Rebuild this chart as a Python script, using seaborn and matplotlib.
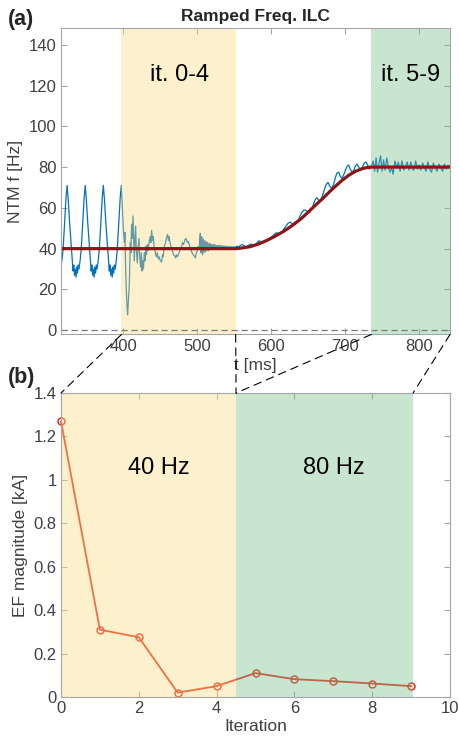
import seaborn as sns
import matplotlib.pyplot as plt
import pandas as pd
from matplotlib.patches import ConnectionPatch
from matplotlib.ticker import FuncFormatter

# ---------------- data ----------------
# (a) measured NTM frequency, (t [ms], f [Hz]) in four stretches
blue_pre = [(316, 32), (317.5, 36), (318.6, 40), (320.5, 52), (322.5, 65), (324, 71), (325.5, 64), (327.5, 52),
            (329.9, 40), (331, 34), (332, 29), (333, 32), (334, 27), (335, 30), (336, 26), (337, 31), (338, 28),
            (339, 32), (340, 30), (341.5, 34), (343.1, 40),
            (345, 52), (347, 65), (348.5, 71), (350, 64), (352, 52), (354.4, 40), (355.5, 34), (356.5, 29),
            (357.5, 32), (358.5, 27), (359.5, 30), (360.5, 26), (361.5, 31), (362.5, 28), (363.5, 32), (364.5, 30),
            (366, 34), (367.6, 40),
            (369.5, 52), (371.5, 65), (373, 71), (374.5, 64), (376.5, 52), (378.9, 40), (380, 34), (381, 29),
            (382, 32), (383, 27), (384, 30), (385, 26), (386, 31), (387, 28), (388, 32), (389, 30), (390.5, 34),
            (391.9, 40), (393.8, 52), (395.8, 65), (397.3, 71)]
blue_it04 = [(398.5, 62), (400, 50), (401.4, 43), (402.2, 48), (403.1, 31), (404, 20), (405, 12), (405.8, 7.5),
             (407, 15), (408.1, 22), (409, 35), (409.5, 43), (410.3, 38), (411.2, 52), (412, 45), (413.1, 56),
             (414, 44), (414.9, 34), (415.8, 45), (416.6, 51), (417.6, 40), (418.9, 33), (420, 40), (421.2, 45),
             (422.2, 36), (423.4, 31), (424.5, 38), (425.3, 29), (426.1, 34), (427.2, 30), (428.4, 38), (429.5, 34),
             (430.5, 41), (431.5, 37), (432.5, 42), (433.5, 39), (435.2, 44), (436.5, 46), (437.3, 43), (438.3, 49),
             (439.5, 44), (440.6, 46), (441.8, 40), (443, 39), (443.7, 37), (445, 36), (446, 38), (447.4, 35),
             (448.5, 36), (450, 34), (451.8, 33.5), (453, 37), (454, 36), (455.5, 41), (457, 43), (458.2, 45),
             (459.9, 47), (461, 44), (462, 46), (463.2, 43), (464.5, 41), (465.5, 40), (466.7, 38.5), (468, 37),
             (469.5, 36.5), (470.8, 35.5), (472, 37), (473, 36), (474.4, 37), (476, 38.5), (477.5, 40), (478.9, 41),
             (480, 43), (481.5, 42), (483.5, 44.5), (485, 45), (486.5, 43), (488, 43.5), (489.5, 41.5), (491, 40),
             (493, 38), (494.5, 37), (496, 36.5), (497.4, 35.5), (499, 38), (500, 39), (501.1, 41), (502.5, 40),
             (503.5, 45), (504.2, 47.5), (505, 38), (506, 46), (507, 37), (508, 45), (509, 38), (510, 44),
             (511, 38.5), (512, 43.5), (513, 39), (514, 43), (515, 39), (516, 42.5), (517, 39.5), (518, 42.5),
             (519, 39.5), (520, 42), (521, 40), (522, 42), (523, 40), (524, 42), (525, 40), (526, 41.5), (527, 40.2),
             (528, 41.7), (529, 40.2), (530, 41.6), (531, 40.3), (532, 41.5), (533, 40.3), (534, 41.4), (535, 40.4),
             (536, 41.3), (537, 40.5), (538, 41.3), (540, 40.5), (541, 41.2), (542, 40.5), (544, 41.1), (545, 40.6),
             (547, 41), (548, 40.6), (550, 41), (551.5, 40.7)]
blue_ramp = [(552, 40.8), (554, 41.2), (556, 40.6), (558, 41.5), (561, 42), (564, 41.2), (567, 41), (570, 41.8),
             (573, 42.3), (576, 41.5), (579, 42), (583, 43.8), (586, 43.5), (589, 43), (592, 43.5), (596, 44.5),
             (600, 45.5), (603, 46.5), (605.7, 47.5), (608, 47.8), (611, 47), (614, 48), (617, 49.5), (620, 51),
             (623, 52.5), (626, 53), (629, 52), (632, 51.8), (635, 52.8), (638, 55), (641, 57.5), (644, 58.8),
             (646.3, 59), (649, 58), (652, 57.8), (655, 59.5), (658, 62.5), (660, 64.3), (662.1, 65), (664.5, 63.5),
             (667, 63.5), (669.5, 66), (672, 69), (674.5, 71.5), (677, 72.5), (679.5, 70.5), (682, 69.5),
             (684.5, 71.5), (687, 75), (689, 77), (691.3, 77.5), (693.5, 75.5), (696, 74.5), (698.5, 76.5),
             (701, 79), (703, 80.5), (704.9, 81), (707, 79), (709.5, 77.5), (712, 78.5), (714, 80.5), (716.2, 81.5),
             (718.5, 80), (721, 78.5), (723.5, 80), (726, 82), (728.4, 82.5), (730.5, 81), (733, 79), (735.5, 80.5)]
blue_it59 = [(736, 80.5), (738, 83), (740, 78), (742, 84.5), (744, 77.5), (746, 82), (748, 85.5), (750, 78),
             (752, 83.5), (754, 78.5), (756.5, 84.5), (759, 79), (761, 77.5), (763, 80), (765, 76.5), (767.5, 83),
             (770, 79.5), (772, 82.5), (774.5, 78), (777, 83), (779.5, 78.5), (782, 80.5), (784, 82.5),
             (786.5, 78.5), (789, 82.5), (791, 79), (793, 78.5), (795.5, 83), (798, 79), (800, 81), (802.5, 78.5),
             (805, 82), (807, 80), (809.5, 78), (812, 82.5), (814.5, 79), (817, 77.5), (819.5, 82), (822, 79.5),
             (824.5, 78), (827, 81.5), (829.5, 79.5), (832, 78), (834.5, 81.5), (837, 79), (839.5, 81), (842, 80)]

# reference frequency ramp
ref_t = [316, 552, 560, 572, 583, 594, 605, 617, 628, 640, 651, 662, 671, 679, 687, 696, 705, 714, 723, 730, 736, 842]
ref_f = [40, 40, 40.3, 41, 42.3, 44, 46, 48.5, 51.2, 54.5, 58.2, 62, 65, 67.9, 70.6, 73.5, 76, 77.9, 79.2, 79.8, 80, 80]

# iteration windows in time
win_0_4 = (397.5, 552)
win_5_9 = (735.5, 842)

# (b) EF magnitude per iteration
iteration = [0, 1, 2, 3, 4, 5, 6, 7, 8, 9]
ef_ka = [1.27, 0.31, 0.275, 0.02, 0.05, 0.11, 0.082, 0.073, 0.062, 0.05]
it_40hz = (0, 4.5)
it_80hz = (4.5, 9.05)

# ---------------- style ----------------
sns.set_theme(style='white')
plt.rcParams['font.family'] = ['Liberation Sans', 'DejaVu Sans']

c_blue = '#0072BD'
c_ref = '#8B1616'
c_ef = '#EB2A1E'
c_yel = '#FADA82'
c_grn = '#76BE8A'
c_spine = '#A6A6A6'
c_txt = '#404040'

blue = pd.DataFrame(blue_pre + blue_it04 + blue_ramp + blue_it59, columns=['t', 'f'])

fig = plt.figure(figsize=(4.6, 7.41), dpi=100)
ax1 = fig.add_axes([0.1326, 0.5486, 0.8457, 0.4136])
ax2 = fig.add_axes([0.1326, 0.0594, 0.8457, 0.4102])

# ---- (a) ----
sns.lineplot(data=blue, x='t', y='f', ax=ax1, color=c_blue, lw=0.9, estimator=None, sort=False, zorder=1)
ax1.axvspan(*win_0_4, color=c_yel, alpha=0.4, lw=0, zorder=2)
ax1.axvspan(*win_5_9, color=c_grn, alpha=0.4, lw=0, zorder=2)
sns.lineplot(x=ref_t, y=ref_f, ax=ax1, color=c_ref, lw=2.3, estimator=None, sort=False, zorder=3)
ax1.axhline(0, color='#7A7A7A', ls=(0, (5, 3)), lw=0.9, zorder=3)
ax1.set_xlim(315.7, 842)
ax1.set_ylim(-2.1, 148.2)
ax1.set_xticks([400, 500, 600, 700, 800])
ax1.set_yticks([0, 20, 40, 60, 80, 100, 120, 140])
ax1.text(476, 125, 'it. 0-4', fontsize=17, ha='center', va='center', color='black', zorder=4)
ax1.text(789, 125, 'it. 5-9', fontsize=17, ha='center', va='center', color='black', zorder=4)
ax1.set_title('Ramped Freq. ILC', fontsize=12.5, fontweight='bold', color='#262626', pad=5)
ax1.set_xlabel('t [ms]', fontsize=12.5, color=c_txt, labelpad=3)
ax1.set_ylabel('NTM f [Hz]', fontsize=12.5, color=c_txt, labelpad=4)

# ---- (b) ----
sns.lineplot(x=iteration, y=ef_ka, ax=ax2, color=c_ef, lw=1.3, marker='o', ms=5, mfc='none',
             mec=c_ef, mew=1.1, estimator=None, zorder=1, clip_on=False)
ax2.axvspan(*it_40hz, color=c_yel, alpha=0.4, lw=0, zorder=2)
ax2.axvspan(*it_80hz, color=c_grn, alpha=0.4, lw=0, zorder=2)
ax2.set_xlim(0, 10)
ax2.set_ylim(0, 1.4)
ax2.set_xticks([0, 2, 4, 6, 8, 10])
ax2.set_yticks([0, 0.2, 0.4, 0.6, 0.8, 1.0, 1.2, 1.4])
ax2.yaxis.set_major_formatter(FuncFormatter(lambda v, p: '%g' % round(v, 2)))
ax2.text(2.52, 1.054, '40 Hz', fontsize=17, ha='center', va='center', color='black', zorder=4)
ax2.text(7.02, 1.054, '80 Hz', fontsize=17, ha='center', va='center', color='black', zorder=4)
ax2.set_xlabel('Iteration', fontsize=12.5, color=c_txt, labelpad=2)
ax2.set_ylabel('EF magnitude [kA]', fontsize=12.5, color=c_txt, labelpad=4)

for ax in (ax1, ax2):
    for s in ax.spines.values():
        s.set_color(c_spine)
        s.set_linewidth(0.8)
        s.set_zorder(5)
    ax.tick_params(direction='in', length=4, width=0.8, color=c_spine, labelsize=12, labelcolor=c_txt,
                   top=True, right=True, bottom=True, left=True, pad=3)

# dashed zoom lines from (a) windows down to (b)
links = [(win_0_4[0], it_40hz[0]), (win_0_4[1], it_40hz[1]), (win_5_9[0], it_80hz[0]), (win_5_9[1], it_80hz[1])]
for ta, ib in links:
    con = ConnectionPatch(xyA=(ta, 0), coordsA=ax1.get_xaxis_transform(),
                          xyB=(ib, 1), coordsB=ax2.get_xaxis_transform(),
                          color='black', lw=0.8, linestyle=(0, (7, 5)))
    fig.add_artist(con)

fig.text(0.017, 0.974, '(a)', fontsize=15.5, fontweight='bold', va='center', ha='left')
fig.text(0.017, 0.491, '(b)', fontsize=15.5, fontweight='bold', va='center', ha='left')

plt.savefig('out.png', dpi=100)
